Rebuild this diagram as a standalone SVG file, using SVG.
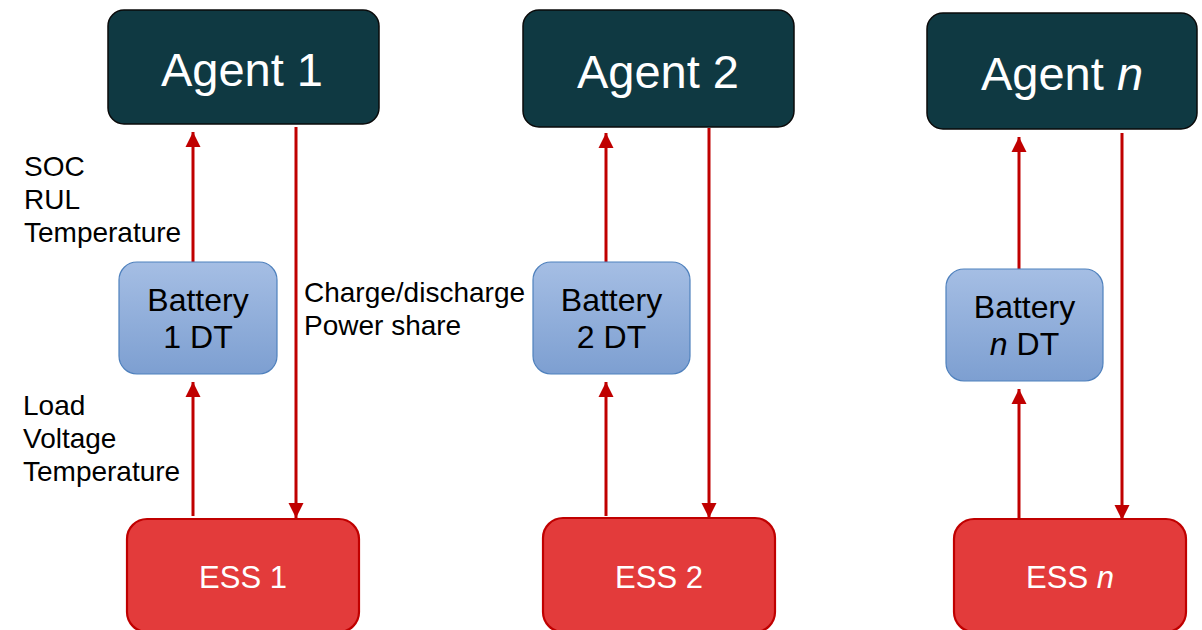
<svg xmlns="http://www.w3.org/2000/svg" width="1202" height="630" viewBox="0 0 1202 630">
<style>
.agent{fill:#0f3942;stroke:#0a0a0a;stroke-width:1.5}
.bat{fill:url(#bg);stroke:#4f81bd;stroke-width:1.2}
.ess{fill:#e33b3b;stroke:#c00000;stroke-width:2.2}
.at{font-family:"Liberation Sans",Arial,sans-serif;font-size:47px;fill:#ffffff;text-anchor:middle}
.bt{font-family:"Liberation Sans",Arial,sans-serif;font-size:32px;fill:#000000;text-anchor:middle}
.et{font-family:"Liberation Sans",Arial,sans-serif;font-size:31px;fill:#ffffff;text-anchor:middle}
.lt{font-family:"Liberation Sans",Arial,sans-serif;font-size:28px;fill:#000000}
.c{stroke:#c00000;stroke-width:3;fill:none;marker-end:url(#ah)}
</style>
<defs>
<linearGradient id="bg" x1="0" y1="0" x2="0" y2="1">
<stop offset="0" stop-color="#a5bee4"/>
<stop offset="1" stop-color="#7d9fd1"/>
</linearGradient>
<marker id="ah" markerUnits="userSpaceOnUse" markerWidth="16" markerHeight="16" refX="15" refY="7.5" orient="auto" viewBox="0 0 16 15">
<path d="M0,0 L15,7.5 L0,15 z" fill="#c00000"/>
</marker>
</defs>
<rect width="1202" height="630" fill="#ffffff"/>
<g id="connectors">
<line class="c" x1="193" y1="262" x2="193" y2="132"/>
<line class="c" x1="296" y1="127" x2="296" y2="518"/>
<line class="c" x1="193" y1="516" x2="193" y2="382"/>
<line class="c" x1="606" y1="262" x2="606" y2="133"/>
<line class="c" x1="709" y1="128" x2="709" y2="518"/>
<line class="c" x1="606" y1="516" x2="606" y2="382"/>
<line class="c" x1="1019" y1="269" x2="1019" y2="137"/>
<line class="c" x1="1122" y1="133" x2="1122" y2="520"/>
<line class="c" x1="1019" y1="519" x2="1019" y2="389"/>
</g>
<g id="agent1"><rect class="agent" x="108" y="10" width="271" height="114" rx="16"/><text class="at" x="242" y="86">Agent 1</text></g>
<g id="agent2"><rect class="agent" x="523" y="10" width="271" height="117" rx="16"/><text class="at" x="658" y="88">Agent 2</text></g>
<g id="agentn"><rect class="agent" x="927" y="13" width="270" height="116" rx="16"/><text class="at" x="1062" y="90">Agent <tspan font-style="italic">n</tspan></text></g>
<g id="battery1"><rect class="bat" x="119" y="262" width="158" height="112" rx="18"/><text class="bt" x="198" y="311">Battery</text><text class="bt" x="198" y="348">1 DT</text></g>
<g id="battery2"><rect class="bat" x="533" y="262" width="157" height="112" rx="18"/><text class="bt" x="611.5" y="311">Battery</text><text class="bt" x="611.5" y="348">2 DT</text></g>
<g id="batteryn"><rect class="bat" x="946" y="269" width="157" height="112" rx="18"/><text class="bt" x="1024.5" y="318">Battery</text><text class="bt" x="1024.5" y="355"><tspan font-style="italic">n</tspan> DT</text></g>
<g id="ess1"><rect class="ess" x="127" y="519" width="232" height="113" rx="20"/><text class="et" x="243" y="588">ESS 1</text></g>
<g id="ess2"><rect class="ess" x="543" y="518" width="232" height="114" rx="20"/><text class="et" x="659" y="588">ESS 2</text></g>
<g id="essn"><rect class="ess" x="954" y="519" width="232" height="113" rx="20"/><text class="et" x="1070" y="588">ESS <tspan font-style="italic">n</tspan></text></g>
<g id="labels">
<text class="lt" x="24" y="176">SOC</text>
<text class="lt" x="24" y="209">RUL</text>
<text class="lt" x="24" y="242">Temperature</text>
<text class="lt" x="23" y="415">Load</text>
<text class="lt" x="23" y="448">Voltage</text>
<text class="lt" x="23" y="481">Temperature</text>
<text class="lt" x="304" y="302">Charge/discharge</text>
<text class="lt" x="304" y="335">Power share</text>
</g>
</svg>
